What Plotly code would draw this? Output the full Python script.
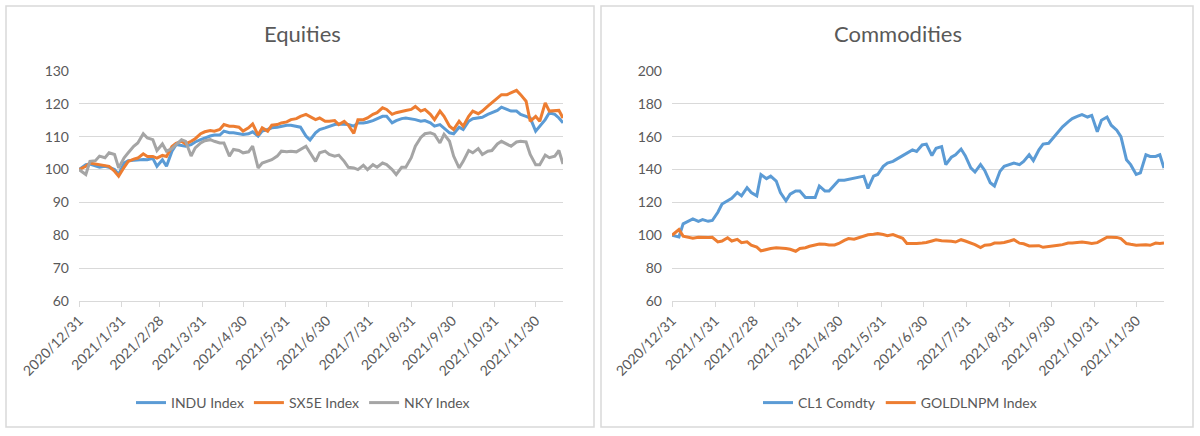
import plotly.graph_objects as go

dates = ["2020-12-31","2021-01-05","2021-01-08","2021-01-12","2021-01-15","2021-01-19","2021-01-22","2021-01-26","2021-01-29",
         "2021-02-02","2021-02-05","2021-02-09","2021-02-12","2021-02-16","2021-02-19","2021-02-23","2021-02-26",
         "2021-03-02","2021-03-05","2021-03-09","2021-03-12","2021-03-16","2021-03-19","2021-03-23","2021-03-26","2021-03-30",
         "2021-04-02","2021-04-06","2021-04-09","2021-04-13","2021-04-16","2021-04-20","2021-04-23","2021-04-27","2021-04-30",
         "2021-05-04","2021-05-07","2021-05-11","2021-05-14","2021-05-18","2021-05-21","2021-05-25","2021-05-28",
         "2021-06-01","2021-06-04","2021-06-08","2021-06-11","2021-06-15","2021-06-18","2021-06-22","2021-06-25","2021-06-29",
         "2021-07-02","2021-07-06","2021-07-09","2021-07-13","2021-07-16","2021-07-20","2021-07-23","2021-07-27","2021-07-30",
         "2021-08-03","2021-08-06","2021-08-10","2021-08-13","2021-08-17","2021-08-20","2021-08-24","2021-08-27","2021-08-31",
         "2021-09-03","2021-09-07","2021-09-10","2021-09-14","2021-09-17","2021-09-21","2021-09-24","2021-09-28",
         "2021-10-01","2021-10-05","2021-10-08","2021-10-12","2021-10-15","2021-10-19","2021-10-22","2021-10-26","2021-10-29",
         "2021-11-02","2021-11-05","2021-11-09","2021-11-12","2021-11-16","2021-11-19","2021-11-23","2021-11-26","2021-11-30",
         "2021-12-03","2021-12-07","2021-12-10","2021-12-14","2021-12-17","2021-12-20"]

indu = [100, 101.5, 101.7, 101.2, 100.7, 101, 100.7, 100, 98.5,
        102, 102.7, 102.8, 103, 103.1, 103, 103.4, 101,
        103, 101, 105.6, 107.6, 107.4, 107.1, 107.6, 108.4, 109.1,
        109.6, 110.2, 110.5, 110.5, 111.7, 111.2, 111.2, 110.9, 110.7,
        110.9, 111.5, 110.2, 111.7, 112.2, 112.7, 112.9, 113.2,
        113.5, 113.5, 113.2, 112.9, 110.2, 109, 111.2, 112.2, 112.7,
        113.2, 113.7, 113.9, 113.9, 113.7, 113.2, 114.2, 114.2, 114.4,
        114.9, 115.5, 116.2, 116.2, 114.2, 114.9, 115.5, 115.7, 115.5,
        115.2, 114.7, 114.9, 114.2, 113.2, 113.7, 112.7, 111.2,
        110.9, 112.9, 112.2, 114.7, 115.5, 115.7, 115.9, 116.8, 117.3,
        118, 119, 118.3, 117.8, 117.8, 116.8, 116.2, 115.7, 111.7,
        113.2, 115.2, 117.3, 116.8, 115.7, 114.2]
sx5e = [100, 101, 102, 101.7, 101.5, 101.3, 101, 99.5, 98,
        100.7, 102.5, 103.2, 103.5, 104.8, 104, 104, 103.5,
        104.3, 104, 107, 108, 108.6, 107.8, 108.6, 109.4, 110.9,
        111.5, 111.9, 111.7, 112.2, 113.7, 113.2, 113.2, 112.9, 111.7,
        112.7, 113.9, 110.5, 112.7, 111.7, 113.5, 113.7, 114.2,
        114.5, 115.2, 115.5, 116.2, 116.8, 116.2, 115.2, 115.7, 114.7,
        114.7, 114.9, 113.7, 114.7, 113.5, 111, 115.2, 115.2, 115.7,
        116.8, 117.3, 118.8, 118.3, 116.8, 117.3, 117.8, 118, 118.3,
        119.2, 117.8, 118.3, 116.8, 115.2, 117.8, 116.2, 113.2,
        112.2, 114.7, 113.2, 116.2, 117.8, 117, 117.8, 119.3, 120.3,
        121.8, 122.8, 122.8, 123.4, 124.1, 122.8, 120.8, 114.7, 116.2,
        114.7, 120.3, 117.8, 117.8, 118, 115.7]
nky = [100, 98.5, 102.5, 102.7, 104.1, 103.6, 105.1, 104.6, 100.5,
       103.6, 105.1, 107.1, 108.1, 110.9, 109.6, 109.1, 105.8,
       107.8, 105.6, 106.4, 107.6, 109.1, 108.6, 104.1, 106.6, 108.1,
       108.8, 109.1, 108.6, 108.1, 108.1, 104.1, 106.1, 105.8, 105.1,
       105.4, 107.1, 100.5, 102, 102.7, 103, 104.1, 105.6,
       105.4, 105.6, 105.4, 106.1, 107.1, 105.1, 102.5, 105.1, 105.6,
       104.6, 104.1, 104.4, 102.5, 100.7, 100.5, 100, 101.3, 100,
       101.5, 100.7, 102, 101.5, 100, 98.5, 100.7, 100.7, 103.6,
       107.1, 109.8, 110.9, 111.2, 110.7, 108.1, 110.7, 108.6,
       104.1, 100.5, 102.5, 105.8, 105.1, 106.4, 104.6, 105.6, 105.8,
       107.8, 108.6, 107.6, 107.1, 108.4, 108.6, 108.4, 104.6, 101.5,
       101.5, 104.4, 103.6, 104.1, 105.8, 101.7]

cl1 = [100, 99, 107, 109, 110, 108.5, 109.5, 108.5, 109,
       114, 119, 121, 122.5, 126, 124, 129, 126,
       124, 137, 134.5, 136, 133, 126, 121, 125, 127,
       127, 123, 123, 123, 130, 127, 127, 131, 133.5,
       133.5, 134, 134.5, 135, 136, 128.5, 136, 137,
       142, 144, 145, 146.5, 148.5, 150, 152, 151, 155,
       155.5, 148.5, 153, 154, 143, 147.5, 149, 152.5, 148.5,
       141, 138.5, 143, 139.5, 132, 130, 139, 142, 143,
       144, 143, 145, 149, 145.5, 152, 155.5, 156,
       159, 163, 166, 169, 171, 172.5, 173.5, 172, 173,
       163, 170, 172, 167, 164, 160, 146, 143, 137,
       138, 149, 148, 148, 149, 141]
gold = [100, 103.5, 99.5, 98.5, 98.2, 98.8, 98.6, 98.6, 98.8,
        96, 96.5, 98.5, 96.5, 97.5, 95.5, 96, 94,
        92.8, 90.5, 91.5, 92, 92.4, 92.4, 92, 91.5, 90.3,
        92, 92.4, 93.3, 94, 94.7, 94.5, 94.1, 94.1, 95,
        96.9, 98, 97.6, 98.4, 99.8, 100.3, 100.6, 101,
        100.5, 99.8, 100.4, 99.6, 98.2, 95, 94.9, 95, 95.3,
        95.6, 96.5, 97.2, 96.7, 96.7, 96.3, 95.9, 97.3, 96.5,
        95.5, 94.3, 92.5, 94, 94.2, 95.3, 95.3, 95.6, 96.5,
        97.3, 95.2, 94.8, 93.5, 93.6, 93.7, 92.7, 93.3,
        93.6, 94, 94.3, 95.3, 95.3, 95.5, 95.9, 95.4, 95,
        95.5, 96.7, 98.8, 98.8, 98.7, 98, 95, 94.5, 94,
        94.1, 94.3, 93.9, 95.3, 95, 95.3]

tick_dates = ["2020-12-31","2021-01-31","2021-02-28","2021-03-31","2021-04-30","2021-05-31",
              "2021-06-30","2021-07-31","2021-08-31","2021-09-30","2021-10-31","2021-11-30"]
tick_text = ["2020/12/31","2021/1/31","2021/2/28","2021/3/31","2021/4/30","2021/5/31",
             "2021/6/30","2021/7/31","2021/8/31","2021/9/30","2021/10/31","2021/11/30"]

BLUE, ORANGE, GRAY = "#5B9BD5", "#ED7D31", "#A5A5A5"
TXT = "#595959"
GRID = "#D9D9D9"
FONT = "Lato"
W, H = 1200, 436

fig = go.Figure()
lw = 3
fig.add_trace(go.Scatter(x=dates, y=indu, name="INDU Index", mode="lines", line=dict(color=BLUE, width=lw),
                         xaxis="x", yaxis="y", legend="legend"))
fig.add_trace(go.Scatter(x=dates, y=sx5e, name="SX5E Index", mode="lines", line=dict(color=ORANGE, width=lw),
                         xaxis="x", yaxis="y", legend="legend"))
fig.add_trace(go.Scatter(x=dates, y=nky, name="NKY Index", mode="lines", line=dict(color=GRAY, width=lw),
                         xaxis="x", yaxis="y", legend="legend"))
fig.add_trace(go.Scatter(x=dates, y=cl1, name="CL1 Comdty", mode="lines", line=dict(color=BLUE, width=lw),
                         xaxis="x2", yaxis="y2", legend="legend2"))
fig.add_trace(go.Scatter(x=dates, y=gold, name="GOLDLNPM Index", mode="lines", line=dict(color=ORANGE, width=lw),
                         xaxis="x2", yaxis="y2", legend="legend2"))

def px_x(p): return p / W
def px_y(p): return 1 - p / H

xcommon = dict(type="date", range=["2020-12-31", "2021-12-20"], tickmode="array",
               tickvals=tick_dates, ticktext=tick_text, tickangle=-45, automargin=False,
               showgrid=False, showline=True, linecolor=GRID, linewidth=1,
               ticks="outside", ticklen=5, tickcolor=GRID,
               tickfont=dict(family=FONT, size=14, color=TXT), zeroline=False)
ycommon = dict(showgrid=True, gridcolor=GRID, gridwidth=1, showline=False, zeroline=False, automargin=False,
               ticks="", tickfont=dict(family=FONT, size=14, color=TXT), ticklabelstandoff=9)

y0, y1 = px_y(301), px_y(71)
fig.update_layout(
    width=W, height=H, autosize=False,
    margin=dict(l=0, r=0, t=0, b=0, autoexpand=False),
    paper_bgcolor="white", plot_bgcolor="white",
    font=dict(family=FONT, color=TXT),
    xaxis=dict(domain=[px_x(79), px_x(563)], anchor="y", **xcommon),
    yaxis=dict(domain=[y0, y1], anchor="x", range=[60, 130], dtick=10, tick0=60, **ycommon),
    xaxis2=dict(domain=[px_x(672), px_x(1164)], anchor="y2", **xcommon),
    yaxis2=dict(domain=[y0, y1], anchor="x2", range=[60, 200], dtick=20, tick0=60, **ycommon),
    legend=dict(orientation="h", x=px_x(303), xanchor="center", y=px_y(403), yanchor="middle",
                font=dict(family=FONT, size=14, color=TXT), bgcolor="rgba(0,0,0,0)"),
    legend2=dict(orientation="h", x=px_x(900), xanchor="center", y=px_y(403), yanchor="middle",
                 font=dict(family=FONT, size=14, color=TXT), bgcolor="rgba(0,0,0,0)"),
    shapes=[
        dict(type="rect", xref="paper", yref="paper", x0=px_x(6), x1=px_x(594), y0=px_y(427), y1=px_y(6),
             line=dict(color=GRID, width=1.5), fillcolor="rgba(0,0,0,0)", layer="below"),
        dict(type="rect", xref="paper", yref="paper", x0=px_x(601), x1=px_x(1193), y0=px_y(427), y1=px_y(6),
             line=dict(color=GRID, width=1.5), fillcolor="rgba(0,0,0,0)", layer="below"),
    ],
    annotations=[
        dict(text="Equities", xref="paper", yref="paper", x=px_x(302), y=px_y(33), xanchor="center",
             yanchor="middle", showarrow=False, font=dict(family=FONT, size=22, color=TXT)),
        dict(text="Commodities", xref="paper", yref="paper", x=px_x(898), y=px_y(33), xanchor="center",
             yanchor="middle", showarrow=False, font=dict(family=FONT, size=22, color=TXT)),
    ],
)

fig.write_html("out.html", config={"displayModeBar": False},
               post_script="document.body.style.margin='0';document.body.style.overflow='hidden';")
